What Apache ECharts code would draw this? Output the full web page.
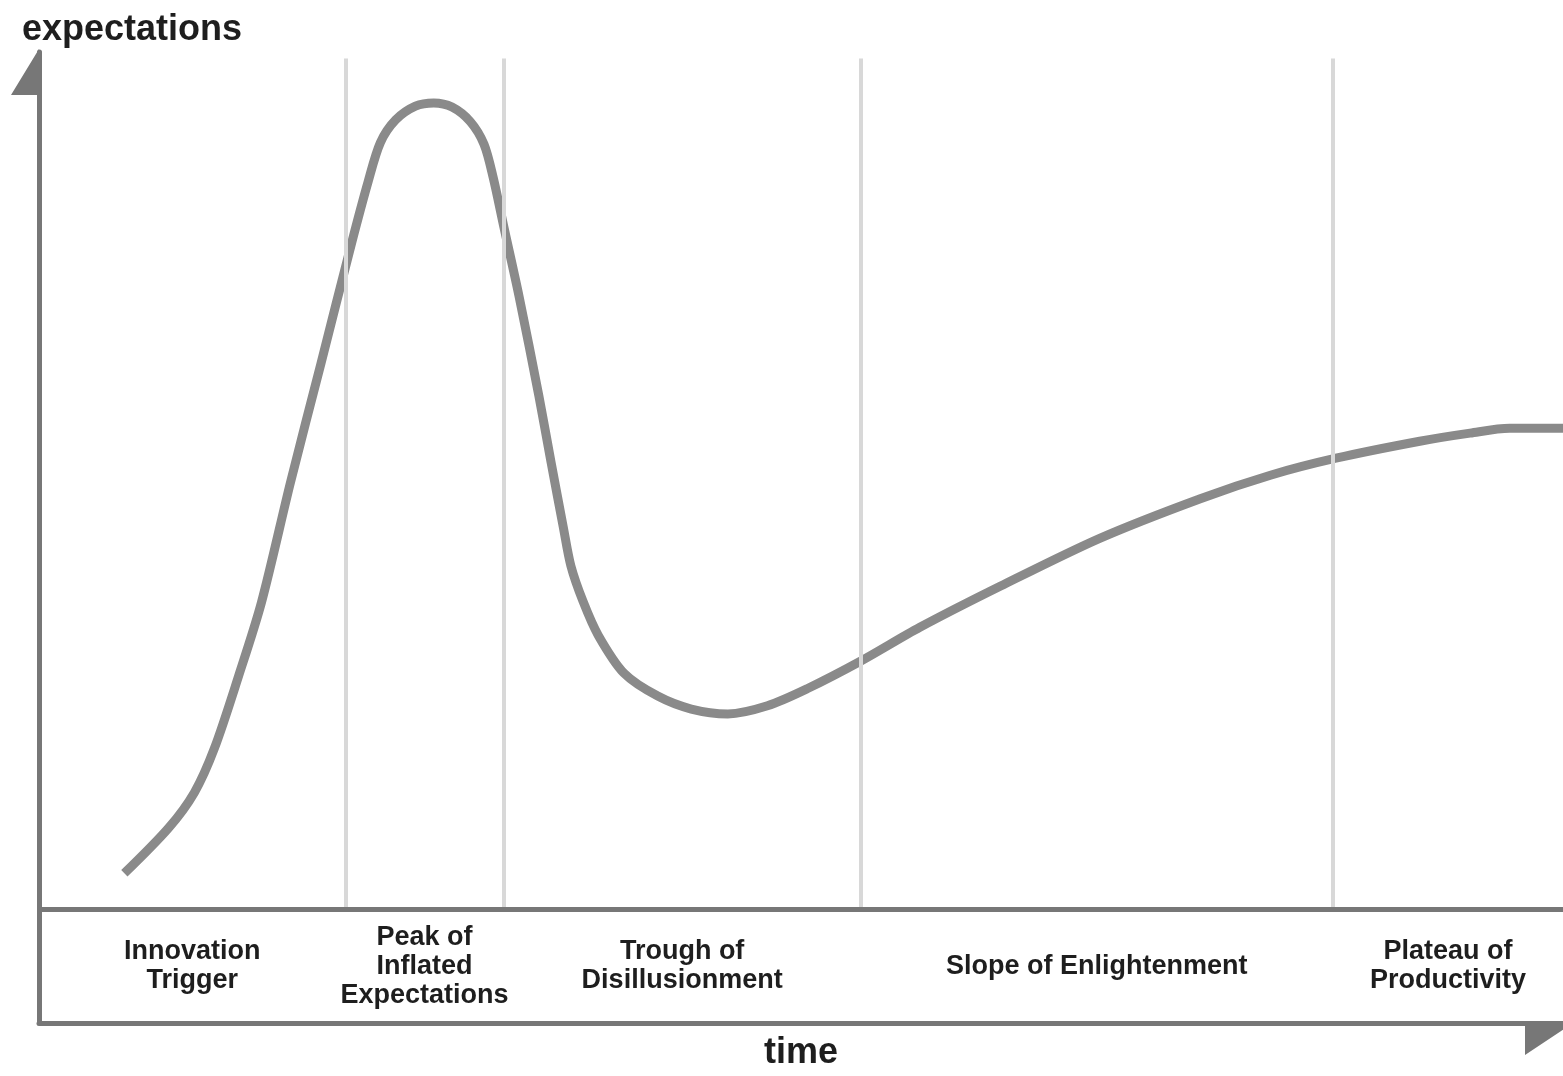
<!DOCTYPE html>
<html>
<head>
<meta charset="utf-8">
<style>
  html, body { margin: 0; padding: 0; background: #ffffff; overflow: hidden; }
  #chart { width: 1563px; height: 1076px; }
</style>
<script src="https://cdn.jsdelivr.net/npm/echarts@6/dist/echarts.min.js"></script>
</head>
<body>
<div id="chart"></div>
<script>
// Hype cycle curve: time (0..100) and expectations (0 = baseline, ~100 = peak)
const curveTime = [
  5.6, 8.5, 10.2, 11.5, 13.1, 14.6, 16.5, 18.5, 20.5, 21.6,
  22.4, 23.4, 24.7, 25.9, 27.1, 28.3, 29.2, 29.8, 30.5, 31.5,
  32.8, 33.6, 34.4, 34.9, 35.7, 36.7, 38.4, 40.6, 42.8, 45.2,
  47.8, 50.4, 53.9, 57.8, 63.1, 69.6, 76.2, 80.8, 85.1, 90.6,
  93.9, 96.5, 100
];
const curveExpectations = [
  4.5, 10.1, 14.5, 19.9, 28.9, 38.0, 52.8, 67.5, 82.3, 90.0,
  94.8, 97.6, 99.3, 99.7, 99.2, 97.4, 94.6, 90.5, 84.4, 75.8,
  63.5, 55.3, 47.3, 42.5, 38.1, 33.9, 29.2, 26.4, 24.8, 24.2,
  25.2, 27.3, 30.7, 34.9, 40.0, 45.9, 50.8, 53.7, 55.8, 57.9,
  58.9, 59.5, 59.5
];
// Phase boundaries along the time axis
const phaseBounds = [0, 20.1, 30.5, 53.9, 84.9, 100];
const phaseNames = [
  'Innovation\nTrigger',
  'Peak of\nInflated\nExpectations',
  'Trough of\nDisillusionment',
  'Slope of Enlightenment',
  'Plateau of\nProductivity'
];
const yTitle = 'expectations';
const xTitle = 'time';

const Y_MIN = -14, Y_MAX = 106, LINE_TOP = 105.2, BAND_MID = -7;

const curveData = curveTime.map((t, i) => [t, curveExpectations[i]]);
const labelData = phaseNames.map((n, i) => ({
  value: [(phaseBounds[i] + phaseBounds[i + 1]) / 2, BAND_MID],
  name: n
}));
const dividerLines = phaseBounds.slice(1, -1).map(b => [
  { coord: [b, 0] }, { coord: [b, LINE_TOP] }
]);

const FONT = '"Liberation Sans", Arial, Helvetica, sans-serif';
const chart = echarts.init(document.getElementById('chart'), null, { renderer: 'canvas' });
chart.setOption({
  animation: false,
  backgroundColor: '#ffffff',
  title: {
    text: yTitle,
    left: 22,
    top: 12,
    padding: 0,
    textStyle: { fontFamily: FONT, fontSize: 36, fontWeight: 'bold', color: '#1e1e1e', lineHeight: 36 }
  },
  grid: { left: 39, right: 0, top: 52, bottom: 47, containLabel: false },
  xAxis: {
    type: 'value', min: 0, max: 100,
    name: xTitle, nameLocation: 'middle', nameGap: 12,
    nameTextStyle: { fontFamily: FONT, fontSize: 36, fontWeight: 'bold', color: '#1e1e1e', lineHeight: 36 },
    axisLine: {
      show: true, onZero: false,
      lineStyle: { color: '#777777', width: 5 },
      symbol: ['none', 'path://M32 0L32 48L64 48ZM0 48L0 48Z'],
      symbolSize: [64, 48],
      symbolOffset: [0, -14]
    },
    axisTick: { show: false }, axisLabel: { show: false }, splitLine: { show: false }
  },
  yAxis: {
    type: 'value', min: Y_MIN, max: Y_MAX,
    axisLine: {
      show: true, onZero: false,
      lineStyle: { color: '#777777', width: 5 },
      symbol: ['none', 'path://M28 0L28 46L0 46ZM56 46L56 46Z'],
      symbolSize: [56, 46],
      symbolOffset: [0, -20]
    },
    axisTick: { show: false }, axisLabel: { show: false }, splitLine: { show: false }
  },
  series: [
    {
      type: 'scatter',
      z: 1,
      silent: true,
      symbolSize: 0,
      itemStyle: { color: '#ffffff', opacity: 1 },
      data: labelData,
      label: {
        show: true, position: 'inside',
        formatter: p => p.name,
        fontFamily: FONT, fontSize: 27, fontWeight: 'bold',
        color: '#1e1e1e', lineHeight: 29, align: 'center'
      },
      markLine: {
        silent: true,
        symbol: ['none', 'none'],
        label: { show: false },
        lineStyle: { color: '#d8d8d8', width: 4, type: 'solid', opacity: 1 },
        data: dividerLines.concat([
          { yAxis: 0, lineStyle: { color: '#777777', width: 5, type: 'solid', opacity: 1 } }
        ])
      }
    },
    {
      type: 'line',
      z: 3,
      silent: true,
      data: curveData,
      smooth: 0.3,
      showSymbol: false,
      symbol: 'none',
      lineStyle: { color: '#8a8a8a', width: 9, cap: 'butt', join: 'round' }
    }
  ]
});
</script>
</body>
</html>
